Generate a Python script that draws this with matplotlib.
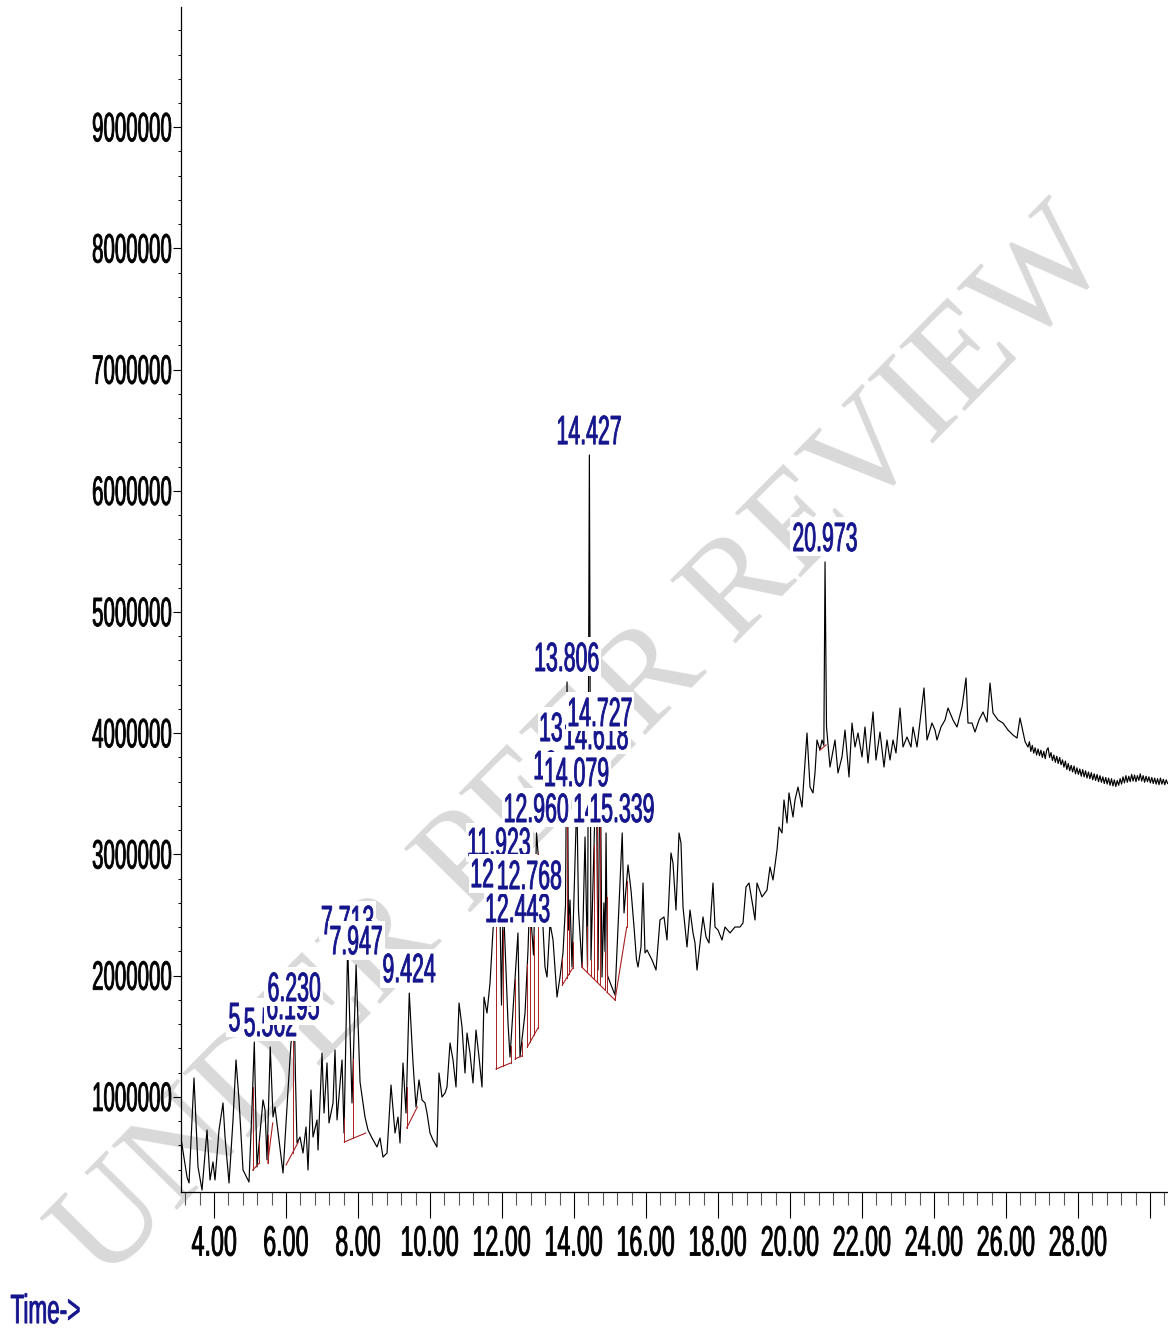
import numpy as np
import matplotlib
matplotlib.use("Agg")
import matplotlib.pyplot as plt
from matplotlib.textpath import TextPath
from matplotlib.patches import PathPatch, Rectangle
from matplotlib.font_manager import FontProperties
from matplotlib.transforms import Affine2D, IdentityTransform

# ---------------- data ----------------
rt = [3.09, 3.25, 3.306, 3.444, 3.556, 3.667, 3.806, 3.889, 3.972, 4.028, 4.139, 4.25, 4.306, 4.417,
      4.528, 4.611, 4.694, 4.806, 4.972, 5.056, 5.119, 5.194, 5.361, 5.417, 5.472, 5.562, 5.639, 5.694,
      5.806, 5.917, 6.056, 6.139, 6.195, 6.21, 6.23, 6.264, 6.306, 6.389, 6.472, 6.556, 6.611, 6.694,
      6.75, 6.861, 6.889, 7.0, 7.056, 7.139, 7.194, 7.306, 7.361, 7.417, 7.556, 7.611, 7.713, 7.833,
      7.947, 8.056, 8.194, 8.278, 8.389, 8.528, 8.611, 8.694, 8.806, 8.917, 9.028, 9.111, 9.167, 9.25,
      9.333, 9.424, 9.528, 9.611, 9.694, 9.778, 9.861, 9.917, 10.0, 10.083, 10.194, 10.25, 10.333,
      10.417, 10.472, 10.556, 10.639, 10.722, 10.806, 10.889, 10.972, 11.028, 11.111, 11.194, 11.278,
      11.361, 11.444, 11.5, 11.583, 11.667, 11.75, 11.923, 11.986, 12.033, 12.167, 12.222, 12.306,
      12.443, 12.5, 12.639, 12.722, 12.768, 12.875, 12.96, 13.111, 13.194, 13.25, 13.333, 13.417,
      13.528, 13.611, 13.694, 13.764, 13.806, 13.847, 13.889, 13.944, 14.079, 14.125, 14.222, 14.306,
      14.375, 14.427, 14.472, 14.618, 14.667, 14.727, 14.778, 14.83, 14.861, 14.89, 14.93, 15.028,
      15.139, 15.339, 15.389, 15.5, 15.583, 15.667, 15.736, 15.778, 15.861, 15.917, 15.972, 16.028,
      16.167, 16.278, 16.389, 16.5, 16.583, 16.694, 16.75, 16.833, 16.917, 16.972, 17.028, 17.139,
      17.222, 17.306, 17.361, 17.417, 17.5, 17.583, 17.667, 17.75, 17.861, 17.917, 18.0, 18.111,
      18.194, 18.333, 18.472, 18.611, 18.694, 18.778, 18.861, 18.972, 19.028, 19.083, 19.222, 19.361,
      19.444, 19.528, 19.639, 19.694, 19.778, 19.833, 19.917, 19.972, 20.083, 20.139, 20.222, 20.333,
      20.389, 20.472, 20.556, 20.639, 20.694, 20.75, 20.833, 20.889, 20.94, 20.973, 21.014, 21.111,
      21.25, 21.333, 21.444, 21.528, 21.639, 21.722, 21.806, 21.889, 22.0, 22.083, 22.167, 22.306,
      22.389, 22.5, 22.611, 22.694, 22.778, 22.861, 22.944, 23.056, 23.139, 23.25, 23.361, 23.417,
      23.528, 23.639, 23.722, 23.806, 23.944, 24.028, 24.083, 24.194, 24.306, 24.389, 24.528, 24.639,
      24.778, 24.889, 24.944, 25.056, 25.139, 25.25, 25.361, 25.472, 25.556, 25.639, 25.778, 25.917,
      26.056, 26.194, 26.306, 26.389, 26.472, 26.53, 26.611, 26.65, 26.69, 26.73, 26.77, 26.81, 26.85,
      26.89, 26.93, 26.97, 27.01, 27.05, 27.09, 27.13, 27.17, 27.21, 27.25, 27.29, 27.33, 27.37, 27.41,
      27.45, 27.49, 27.53, 27.57, 27.61, 27.65, 27.69, 27.73, 27.77, 27.81, 27.85, 27.89, 27.93, 27.97,
      28.01, 28.05, 28.09, 28.13, 28.17, 28.21, 28.25, 28.29, 28.33, 28.37, 28.41, 28.45, 28.49, 28.53,
      28.57, 28.61, 28.65, 28.69, 28.73, 28.77, 28.81, 28.85, 28.89, 28.93, 28.97, 29.01, 29.05, 29.09,
      29.13, 29.17, 29.21, 29.25, 29.29, 29.33, 29.37, 29.41, 29.45, 29.49, 29.53, 29.57, 29.61, 29.65,
      29.69, 29.73, 29.77, 29.81, 29.85, 29.89, 29.93, 29.97, 30.01, 30.05, 30.09, 30.13, 30.17, 30.21,
      30.25, 30.29, 30.33, 30.37, 30.41, 30.45, 30.49]
abundance = [644000, 338000, 289000, 1155000, 421000, 231000, 726000, 314000, 462000, 314000, 726000,
      949000, 668000, 289000, 809000, 1304000, 974000, 396000, 297000, 916000, 1452000, 421000, 974000,
      891000, 479000, 1411000, 833000, 916000, 644000, 371000, 1056000, 1444000, 1551000, 1485000,
      1700000, 1139000, 619000, 668000, 536000, 751000, 396000, 1056000, 668000, 809000, 561000,
      1361000, 866000, 1279000, 784000, 949000, 1386000, 809000, 1304000, 701000, 2252000, 949000,
      2087000, 1122000, 833000, 726000, 660000, 586000, 660000, 503000, 536000, 1097000, 701000,
      833000, 619000, 1279000, 866000, 1856000, 1279000, 916000, 1139000, 974000, 949000, 866000,
      701000, 644000, 586000, 1196000, 998000, 1031000, 1081000, 1444000, 1304000, 1081000, 1774000,
      1576000, 1196000, 1526000, 1361000, 1114000, 1551000, 1328000, 1081000, 1823000, 1691000,
      1939000, 2376000, 2896000, 1757000, 2640000, 1609000, 1328000, 1716000, 2352000, 1328000,
      1691000, 2211000, 2624000, 2170000, 3177000, 2566000, 2071000, 1988000, 2434000, 2294000,
      1823000, 1988000, 2187000, 2582000, 4423000, 2376000, 2624000, 2071000, 3474000, 2541000,
      2071000, 3144000, 2071000, 6295000, 2129000, 3779000, 2046000, 3969000, 1988000, 2600000,
      2200000, 3177000, 2000000, 1923000, 1840000, 3177000, 2517000, 2913000, 2706000, 2401000,
      2129000, 2071000, 2236000, 2764000, 2187000, 2211000, 2129000, 2046000, 2459000, 2484000,
      2294000, 3012000, 2929000, 2541000, 3177000, 3094000, 2566000, 2236000, 2541000, 2352000,
      2269000, 2046000, 2269000, 2484000, 2319000, 2269000, 2764000, 2401000, 2376000, 2294000,
      2401000, 2352000, 2401000, 2401000, 2434000, 2731000, 2764000, 2566000, 2459000, 2764000,
      2649000, 2706000, 2896000, 2789000, 3036000, 3226000, 3177000, 3449000, 3259000, 3507000,
      3309000, 3449000, 3556000, 3391000, 3639000, 4002000, 3556000, 3507000, 3672000, 3944000,
      3861000, 3944000, 3900000, 5413000, 4051000, 3721000, 3944000, 3672000, 3804000, 4026000,
      3639000, 4084000, 3886000, 4002000, 3804000, 4051000, 3754000, 4175000, 3779000, 4010000,
      3721000, 3944000, 3779000, 3944000, 3837000, 4208000, 3886000, 3969000, 3886000, 4051000,
      3886000, 4167000, 4373000, 3944000, 4084000, 4026000, 3944000, 4051000, 4109000, 4208000,
      4109000, 4051000, 4216000, 4456000, 4084000, 4084000, 4010000, 4109000, 4175000, 4092000,
      4414000, 4167000, 4109000, 4084000, 4026000, 3985000, 3960000, 4126000, 4010000, 3930000,
      3886000, 3930000, 3850000, 3900000, 3835000, 3880000, 3820000, 3870000, 3815000, 3860000,
      3800000, 3850000, 3790000, 3860000, 3880000, 3800000, 3840000, 3775000, 3820000, 3760000,
      3810000, 3750000, 3800000, 3740000, 3780000, 3720000, 3770000, 3700000, 3750000, 3690000,
      3735000, 3680000, 3730000, 3665000, 3715000, 3660000, 3705000, 3645000, 3700000, 3640000,
      3690000, 3630000, 3680000, 3625000, 3675000, 3615000, 3665000, 3610000, 3660000, 3600000,
      3650000, 3595000, 3640000, 3585000, 3635000, 3580000, 3630000, 3570000, 3625000, 3565000,
      3615000, 3560000, 3610000, 3570000, 3625000, 3580000, 3640000, 3590000, 3650000, 3595000,
      3645000, 3600000, 3660000, 3605000, 3655000, 3600000, 3650000, 3610000, 3665000, 3605000,
      3650000, 3595000, 3645000, 3600000, 3640000, 3590000, 3635000, 3585000, 3630000, 3580000,
      3625000, 3575000, 3630000, 3580000, 3620000, 3575000, 3615000, 3585000]

# peak labels: retention time and apex height used for placing the label (drawing order)
label_rt = [5.119, 5.562, 6.195, 6.230, 7.713, 7.947, 9.424, 11.923, 12.033, 12.443, 12.768,
            13.781, 13.941, 14.618, 14.727, 14.079, 14.890, 12.960, 15.339, 13.806, 14.427, 20.973]
label_apex = [1452000, 1411000, 1551000, 1700000, 2252000, 2087000, 1856000, 2896000, 2640000,
              2352000, 2624000, 3531000, 3845000, 3779000, 3969000, 3474000, 3177000, 3177000,
              3177000, 4423000, 6295000, 5413000]

# integration baselines: start/end time and abundance, drop-line times
bl_t0 = [5.075, 5.492, 6.000, 7.619, 9.353, 11.833, 12.361, 12.703, 13.675, 14.214, 14.908, 15.139, 20.833]
bl_a0 = [396000, 454000, 437000, 627000, 743000, 1229000, 1312000, 1411000, 1922000, 2071000, 1865000, 1799000, 3861000]
bl_t1 = [5.258, 5.631, 6.342, 8.214, 9.647, 12.242, 12.547, 13.000, 13.964, 14.861, 15.139, 15.464, 21.000]
bl_a1 = [454000, 784000, 627000, 701000, 916000, 1279000, 1337000, 1568000, 2063000, 1881000, 1799000, 2401000, 3903000]
bl_drops = [[5.075, 5.258], [5.492], [6.186], [7.619, 7.869], [9.353], [11.833, 12.019, 12.242],
            [12.361, 12.547], [12.703, 12.778, 12.889, 13.0], [13.675, 13.797, 13.87, 13.964],
            [14.214, 14.353, 14.472, 14.556, 14.63, 14.722, 14.861], [14.908, 15.139], [15.464], []]

ytick_vals = [1000000, 2000000, 3000000, 4000000, 5000000, 6000000, 7000000, 8000000, 9000000]
xtick_vals = [4, 6, 8, 10, 12, 14, 16, 18, 20, 22, 24, 26, 28]

# ---------------- figure ----------------
W, H = 1168, 1332
fig = plt.figure(figsize=(W / 100, H / 100), dpi=100)
fig.patch.set_facecolor("white")
ax = fig.add_axes([181 / W, (H - 1192) / H, (W - 181) / W, (1192 - 7) / H])
ax.set_facecolor("none")
ax.set_xlim(3.083, 30.5)
ax.set_ylim(214500, 9992000)
for s in ("top", "right"):
    ax.spines[s].set_visible(False)
for s in ("left", "bottom"):
    ax.spines[s].set_linewidth(0.9)

ax.set_xticks(np.arange(4, 30.01, 2))
ax.set_xticks([v for v in np.arange(3.2, 30.45, 0.4) if abs(v / 2 - round(v / 2)) > 0.01], minor=True)
ax.set_yticks(ytick_vals)
ax.set_yticks([v for v in np.arange(400000, 9990000, 200000) if v % 1000000 != 0], minor=True)
ax.tick_params(axis="x", which="major", length=19, width=0.8, direction="out", labelbottom=False)
ax.tick_params(axis="x", which="minor", length=9.5, width=0.8, direction="out", color="#555555")
ax.tick_params(axis="y", which="major", length=5.5, width=0.8, direction="out", labelleft=False)
ax.tick_params(axis="y", which="minor", length=2.2, width=0.7, direction="out")

ax.plot(rt, abundance, color="black", lw=0.85, zorder=2)

# baselines + drop lines
red = "#a82020"
for t0, a0, t1, a1, drops in zip(bl_t0, bl_a0, bl_t1, bl_a1, bl_drops):
    ax.plot([t0, t1], [a0, a1], color=red, lw=0.8, zorder=3)
    for td in drops:
        base = np.interp(td, [t0, t1], [a0, a1])
        top = np.interp(td, rt, abundance)
        ax.plot([td, td], [base, top], color=red, lw=0.7, zorder=3)

# watermark
fig.text(586 / W, 1 - 748 / H, "UNDER PEER REVIEW", rotation=45.4, rotation_mode="anchor",
         ha="center", va="center", fontsize=101, family="Liberation Serif",
         color="#d9d9d9", zorder=-1)

# ---------------- condensed text helper ----------------
FP = FontProperties(family="Liberation Sans")
_ref = TextPath((0, 0), "0", size=100, prop=FP).get_extents()
DIGIT_H = _ref.height
DIGIT_Y0 = _ref.y0


def ctext(s, x, y, h=30, squeeze=0.53, color="black", ha="center", box=False, z=10, lw=0.6):
    tp = TextPath((0, 0), s, size=100, prop=FP)
    ext = tp.get_extents()
    sy = h / DIGIT_H
    sx = sy * squeeze
    if ha == "center":
        x0 = x - (ext.x0 + ext.x1) / 2 * sx
    elif ha == "right":
        x0 = x - ext.x1 * sx
    else:
        x0 = x - ext.x0 * sx
    y0 = y - (DIGIT_Y0 + DIGIT_H / 2) * sy
    if box:
        bx0 = x0 + ext.x0 * sx - 3
        bx1 = x0 + ext.x1 * sx + 3
        by0 = y - h / 2 - 5
        by1 = y + h / 2 + 5
        fig.add_artist(Rectangle((bx0, by0), bx1 - bx0, by1 - by0, transform=IdentityTransform(),
                                 facecolor="white", edgecolor="none", zorder=z))
    fig.add_artist(PathPatch(tp, transform=Affine2D().scale(sx, sy).translate(x0, y0),
                             facecolor=color, edgecolor=color, lw=lw, zorder=z + 0.5))


navy = "#14148c"
# peak labels
for i, (t, a) in enumerate(zip(label_rt, label_apex)):
    px, py = ax.transData.transform((t, a))
    ctext(f"{t:.3f}", px, py + 25, h=29, squeeze=0.52, color=navy, box=True, z=10 + i)

# tick labels
for v in ytick_vals:
    px, py = ax.transData.transform((3.083, v))
    ctext(str(v), 171, py, h=29, squeeze=0.5, ha="right", z=5)
for v in xtick_vals:
    px, py = ax.transData.transform((v, 214500))
    ctext(f"{v:.2f}", px, H - 1241, h=30, squeeze=0.55, z=5)

ctext("Time->", 11, H - 1309, h=29, squeeze=0.55, color=navy, ha="left", z=5)

fig.savefig("out.png", dpi=100, facecolor="white")
